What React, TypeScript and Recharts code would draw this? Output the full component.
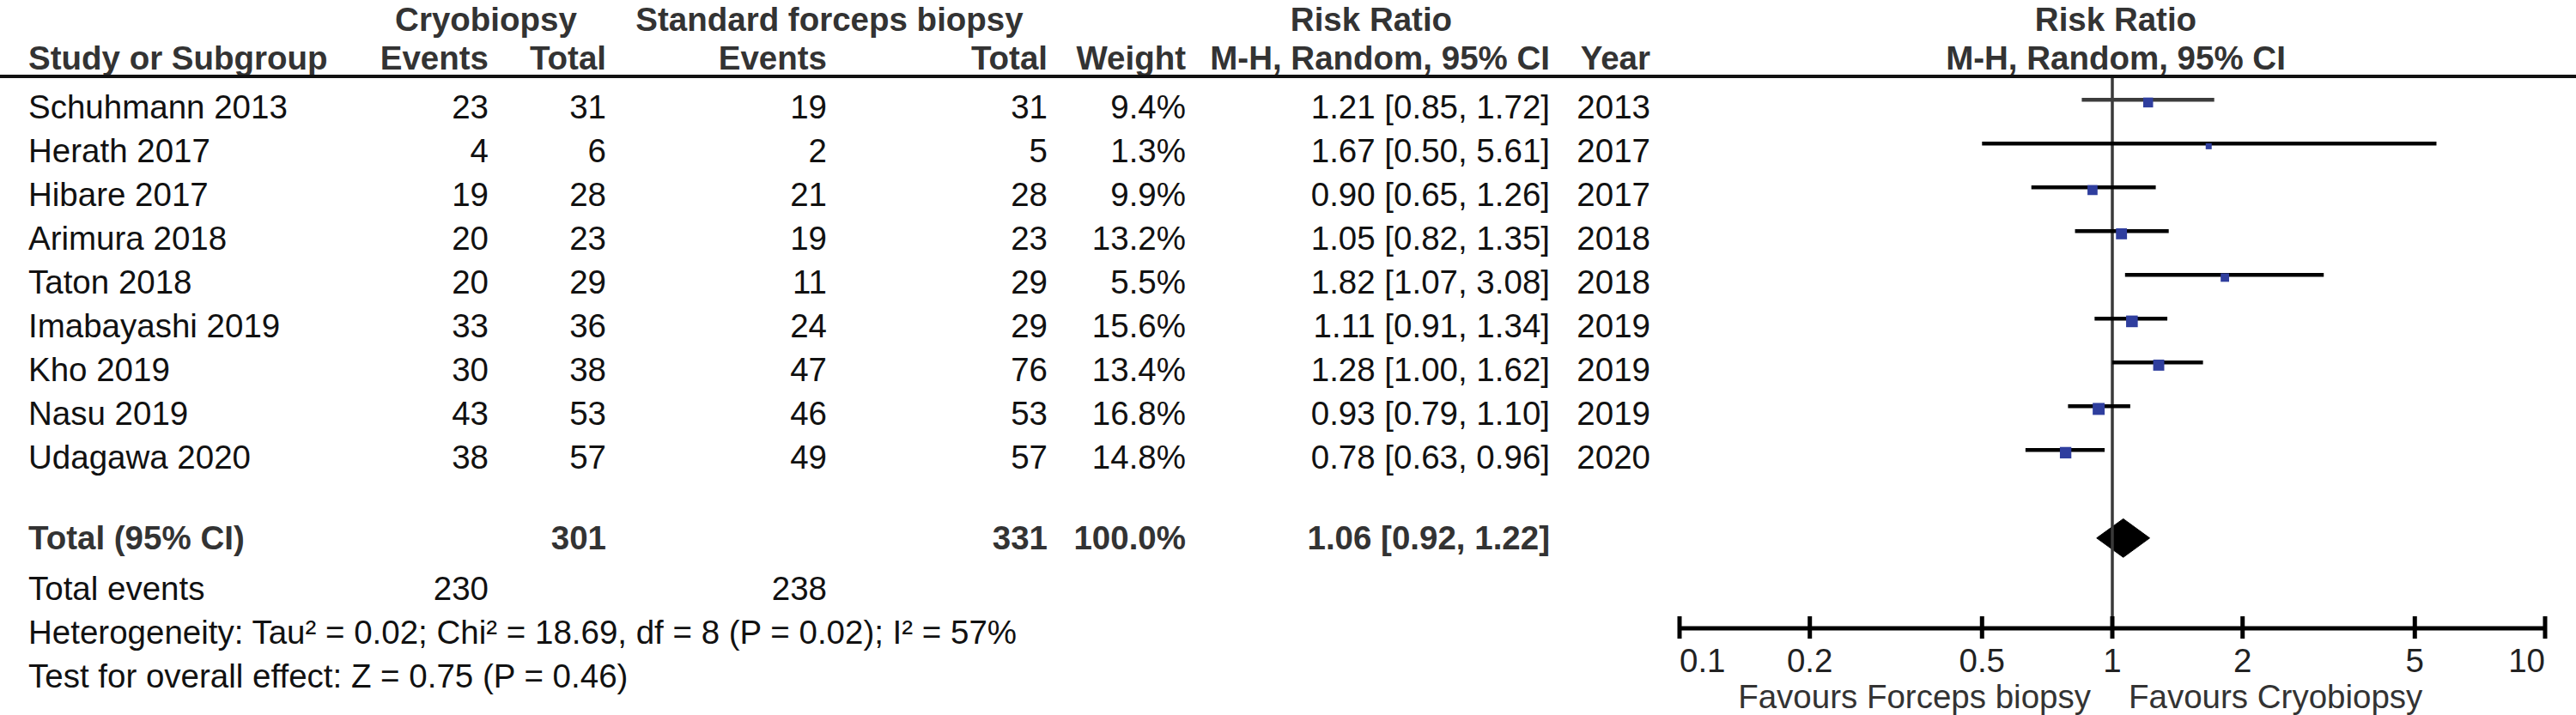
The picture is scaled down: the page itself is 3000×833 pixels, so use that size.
import React from "react";
import {
  ComposedChart,
  Scatter,
  Area,
  XAxis,
  YAxis,
  ReferenceLine,
} from "recharts";

const studies = [
  "Schuhmann 2013",
  "Herath 2017",
  "Hibare 2017",
  "Arimura 2018",
  "Taton 2018",
  "Imabayashi 2019",
  "Kho 2019",
  "Nasu 2019",
  "Udagawa 2020",
];
const cryoEvents = [23, 4, 19, 20, 20, 33, 30, 43, 38];
const cryoTotal = [31, 6, 28, 23, 29, 36, 38, 53, 57];
const forcepsEvents = [19, 2, 21, 19, 11, 24, 47, 46, 49];
const forcepsTotal = [31, 5, 28, 23, 29, 29, 76, 53, 57];
const weights = [9.4, 1.3, 9.9, 13.2, 5.5, 15.6, 13.4, 16.8, 14.8];
const riskRatio = [1.21, 1.67, 0.9, 1.05, 1.82, 1.11, 1.28, 0.93, 0.78];
const ciLow = [0.85, 0.5, 0.65, 0.82, 1.07, 0.91, 1.0, 0.79, 0.63];
const ciHigh = [1.72, 5.61, 1.26, 1.35, 3.08, 1.34, 1.62, 1.1, 0.96];
const years = [2013, 2017, 2017, 2018, 2018, 2019, 2019, 2019, 2020];

const pooled = { rr: 1.06, low: 0.92, high: 1.22 };
const totals = { cryo: 301, forceps: 331, weight: "100.0%" };
const totalEvents = { cryo: 230, forceps: 238 };
const heterogeneity =
  "Heterogeneity: Tau² = 0.02; Chi² = 18.69, df = 8 (P = 0.02); I² = 57%";
const overallTest = "Test for overall effect: Z = 0.75 (P = 0.46)";
const axisTicks = [0.1, 0.2, 0.5, 1, 2, 5, 10];

// layout (px)
const W = 3000;
const H = 833;
const ROW0 = 124.5;
const ROW_H = 51;
const PLOT_TOP = 91;
const AXIS_Y = 732;
const PLOT_LEFT = 1956;
const PLOT_RIGHT = 2964;
const TOTAL_ROW = 9.85;
const FONT = "'Liberation Sans', Arial, Helvetica, sans-serif";
const FS = 38.5;

const rowY = (r: number) => ROW0 + ROW_H * r;
const fmt2 = (v: number) => v.toFixed(2);
const ciText = (r: number, l: number, h: number) =>
  `${fmt2(r)} [${fmt2(l)}, ${fmt2(h)}]`;

const squareData = studies.map((name, i) => ({
  name,
  x: riskRatio[i],
  y: i - 0.1,
  w: weights[i],
}));

const diamondData = [
  { x: pooled.low, d: [TOTAL_ROW, TOTAL_ROW] },
  { x: pooled.rr, d: [TOTAL_ROW - 0.44, TOTAL_ROW + 0.44] },
  { x: pooled.high, d: [TOTAL_ROW, TOTAL_ROW] },
];

const Square = (props: any) => {
  const { cx, cy, payload } = props;
  const s = 4.3 + 2.35 * Math.sqrt(payload.w);
  return (
    <rect x={cx - s / 2} y={cy - s / 2} width={s} height={s} fill="#2f3e9e" />
  );
};

const AxisTick = (props: any) => {
  const { x, y, payload } = props;
  const v = payload.value;
  const anchor =
    v === axisTicks[0]
      ? "start"
      : v === axisTicks[axisTicks.length - 1]
      ? "end"
      : "middle";
  return (
    <g>
      <line x1={x} x2={x} y1={y - 14} y2={y + 12} stroke="#000" strokeWidth={5} />
      <text
        x={x}
        y={y + 37}
        textAnchor={anchor}
        dominantBaseline="central"
        fontFamily={FONT}
        fontSize={FS}
        fill="#222"
      >
        {v}
      </text>
    </g>
  );
};

const T = ({
  x,
  y,
  anchor = "end",
  bold = false,
  color = "#111",
  children,
}: {
  x: number;
  y: number;
  anchor?: "start" | "middle" | "end";
  bold?: boolean;
  color?: string;
  children: React.ReactNode;
}) => (
  <text
    x={x}
    y={y}
    textAnchor={anchor}
    dominantBaseline="central"
    fontFamily={FONT}
    fontSize={FS}
    fontWeight={bold ? 700 : 400}
    fill={color}
  >
    {children}
  </text>
);

const COL = {
  name: 33,
  cryoEv: 569,
  cryoTot: 706,
  fEv: 963,
  fTot: 1220,
  weight: 1381,
  ci: 1805,
  year: 1922,
};

const HEAD = "#333";
const H1 = 22;
const H2 = 67;

const Table = () => (
  <svg
    width={W}
    height={H}
    style={{ position: "absolute", left: 0, top: 0, pointerEvents: "none" }}
  >
    {/* header row 1 */}
    <T x={566} y={H1} anchor="middle" bold color={HEAD}>Cryobiopsy</T>
    <T x={966} y={H1} anchor="middle" bold color={HEAD}>Standard forceps biopsy</T>
    <T x={1597} y={H1} anchor="middle" bold color={HEAD}>Risk Ratio</T>
    <T x={2464} y={H1} anchor="middle" bold color={HEAD}>Risk Ratio</T>
    {/* header row 2 */}
    <T x={COL.name} y={H2} anchor="start" bold color={HEAD}>Study or Subgroup</T>
    <T x={COL.cryoEv} y={H2} bold color={HEAD}>Events</T>
    <T x={COL.cryoTot} y={H2} bold color={HEAD}>Total</T>
    <T x={COL.fEv} y={H2} bold color={HEAD}>Events</T>
    <T x={COL.fTot} y={H2} bold color={HEAD}>Total</T>
    <T x={COL.weight} y={H2} bold color={HEAD}>Weight</T>
    <T x={COL.ci} y={H2} bold color={HEAD}>M-H, Random, 95% CI</T>
    <T x={COL.year} y={H2} bold color={HEAD}>Year</T>
    <T x={2464} y={H2} anchor="middle" bold color={HEAD}>M-H, Random, 95% CI</T>
    <line x1={0} x2={W} y1={89} y2={89} stroke="#111" strokeWidth={4} />

    {studies.map((name, i) => {
      const y = rowY(i);
      return (
        <g key={name}>
          <T x={COL.name} y={y} anchor="start">{name}</T>
          <T x={COL.cryoEv} y={y}>{cryoEvents[i]}</T>
          <T x={COL.cryoTot} y={y}>{cryoTotal[i]}</T>
          <T x={COL.fEv} y={y}>{forcepsEvents[i]}</T>
          <T x={COL.fTot} y={y}>{forcepsTotal[i]}</T>
          <T x={COL.weight} y={y}>{weights[i].toFixed(1)}%</T>
          <T x={COL.ci} y={y}>{ciText(riskRatio[i], ciLow[i], ciHigh[i])}</T>
          <T x={COL.year} y={y}>{years[i]}</T>
        </g>
      );
    })}

    <T x={COL.name} y={rowY(TOTAL_ROW)} anchor="start" bold color={HEAD}>Total (95% CI)</T>
    <T x={COL.cryoTot} y={rowY(TOTAL_ROW)} bold color={HEAD}>{totals.cryo}</T>
    <T x={COL.fTot} y={rowY(TOTAL_ROW)} bold color={HEAD}>{totals.forceps}</T>
    <T x={COL.weight} y={rowY(TOTAL_ROW)} bold color={HEAD}>{totals.weight}</T>
    <T x={COL.ci} y={rowY(TOTAL_ROW)} bold color={HEAD}>
      {ciText(pooled.rr, pooled.low, pooled.high)}
    </T>

    <T x={COL.name} y={rowY(11)} anchor="start">Total events</T>
    <T x={COL.cryoEv} y={rowY(11)}>{totalEvents.cryo}</T>
    <T x={COL.fEv} y={rowY(11)}>{totalEvents.forceps}</T>
    <T x={COL.name} y={rowY(12)} anchor="start">{heterogeneity}</T>
    <T x={COL.name} y={rowY(13)} anchor="start">{overallTest}</T>

    <T x={2435} y={811} color="#333">Favours Forceps biopsy</T>
    <T x={2479} y={811} anchor="start" color="#333">Favours Cryobiopsy</T>
  </svg>
);

export default function App() {
  const yMin = (PLOT_TOP - ROW0) / ROW_H;
  const yMax = (AXIS_Y - ROW0) / ROW_H;
  const X_AXIS_H = 60;
  return (
    <div
      style={{
        position: "absolute",
        left: 0,
        top: 0,
        width: W,
        height: H,
        background: "#fff",
      }}
    >
      <ComposedChart
        width={W}
        height={H}
        margin={{
          top: PLOT_TOP,
          right: W - PLOT_RIGHT,
          bottom: H - AXIS_Y - X_AXIS_H,
          left: PLOT_LEFT,
        }}
      >
        <XAxis
          type="number"
          dataKey="x"
          scale="log"
          domain={[0.1, 10]}
          ticks={axisTicks}
          interval={0}
          allowDataOverflow
          height={X_AXIS_H}
          tickSize={0}
          tickMargin={0}
          tickLine={false}
          axisLine={{ stroke: "#000", strokeWidth: 5 }}
          tick={<AxisTick />}
        />
        <YAxis
          type="number"
          dataKey="y"
          domain={[yMin, yMax]}
          reversed
          hide
          width={0}
          allowDataOverflow
        />
        <ReferenceLine x={1} stroke="#3a3a3a" strokeWidth={3.5} />
        {studies.map((name, i) => (
          <ReferenceLine
            key={name}
            segment={[
              { x: ciLow[i], y: i - 0.16 },
              { x: ciHigh[i], y: i - 0.16 },
            ]}
            stroke={i === 0 ? "#3c3c3c" : "#000"}
            strokeWidth={4.5}
          />
        ))}
        <Area
          data={diamondData}
          dataKey="d"
          type="linear"
          stroke="#000"
          strokeWidth={1}
          fill="#000"
          fillOpacity={1}
          isAnimationActive={false}
          dot={false}
          activeDot={false}
        />
        <Scatter
          data={squareData}
          dataKey="y"
          shape={<Square />}
          isAnimationActive={false}
        />
      </ComposedChart>
      <Table />
    </div>
  );
}
